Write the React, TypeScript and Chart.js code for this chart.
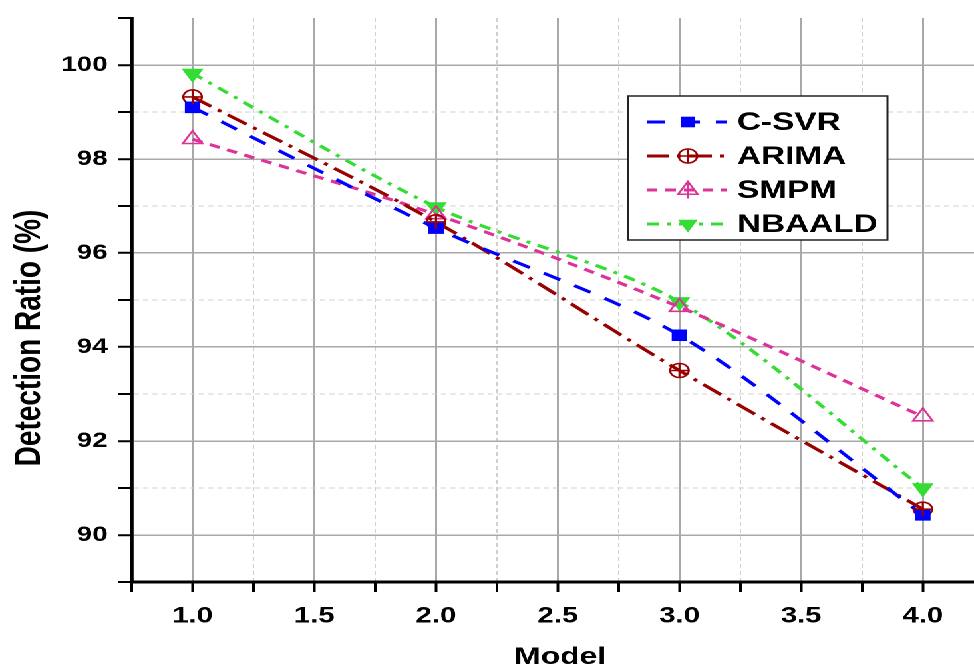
import React, { useEffect, useRef } from 'react';
import { Chart, registerables } from 'chart.js';

Chart.register(...registerables);

// ---- data ----
const X_VALUES = [1.0, 2.0, 3.0, 4.0];
const SERIES_NAMES = ['C-SVR', 'ARIMA', 'SMPM', 'NBAALD'];
const CSVR = [99.1, 96.53, 94.25, 90.43];
const ARIMA = [99.32, 96.66, 93.5, 90.55];
const SMPM = [98.42, 96.82, 94.85, 92.52];
const NBAALD = [99.82, 96.98, 94.96, 91.0];
const Y_TICK_LABELS = [90, 92, 94, 96, 98, 100];
const X_TICK_LABELS = [1.0, 1.5, 2.0, 2.5, 3.0, 3.5, 4.0];
const X_TICK_POSITIONS = [0.75, 1.0, 1.25, 1.5, 1.75, 2.0, 2.25, 2.5, 2.75, 3.0, 3.25, 3.5, 3.75, 4.0];
const X_AXIS_TITLE = 'Model';
const Y_AXIS_TITLE = 'Detection Ratio (%)';

// ---- styles ----
const CANVAS_W = 732;
const CANVAS_H = 668;
const STRETCH = 974 / CANVAS_W;
const X_MIN = 0.75;
const X_MAX = 4.21;
const FONT = '"Liberation Sans", Arial, Helvetica, sans-serif';
const COLORS = ['#0000ff', '#990000', '#dd3399', '#33dd33'];
const DASHES = [[14, 12], [17, 6, 3, 6], [8, 6], [9, 6, 3, 6]];
const MARKERS = ['rect', 'circlePlus', 'triUp', 'triDown'];

const isMultiple = (v: number, step: number) => Math.abs(v / step - Math.round(v / step)) < 1e-6;

function drawMarker(ctx: CanvasRenderingContext2D, kind: string, x: number, y: number, color: string) {
  ctx.save();
  ctx.setLineDash([]);
  ctx.strokeStyle = color;
  ctx.fillStyle = color;
  ctx.lineWidth = 1.6;
  if (kind === 'rect') {
    ctx.fillRect(x - 5.3, y - 5.3, 10.6, 10.6);
  } else if (kind === 'circlePlus') {
    ctx.beginPath();
    ctx.arc(x, y, 7, 0, Math.PI * 2);
    ctx.stroke();
    ctx.beginPath();
    ctx.moveTo(x - 7, y); ctx.lineTo(x + 7, y);
    ctx.moveTo(x, y - 7); ctx.lineTo(x, y + 7);
    ctx.stroke();
  } else if (kind === 'triUp') {
    const r = 8.5;
    ctx.beginPath();
    ctx.moveTo(x, y - r);
    ctx.lineTo(x + r * 0.866, y + r * 0.5);
    ctx.lineTo(x - r * 0.866, y + r * 0.5);
    ctx.closePath();
    ctx.stroke();
    ctx.beginPath();
    ctx.moveTo(x, y - r); ctx.lineTo(x, y + r);
    ctx.stroke();
  } else {
    const r = 8.5;
    ctx.beginPath();
    ctx.moveTo(x, y + r);
    ctx.lineTo(x + r * 0.866, y - r * 0.5);
    ctx.lineTo(x - r * 0.866, y - r * 0.5);
    ctx.closePath();
    ctx.fill();
  }
  ctx.restore();
}

const extrasPlugin = {
  id: 'extras',
  afterDatasetsDraw(chart: any) {
    const meta = chart.getDatasetMeta(1);
    const ctx = chart.ctx as CanvasRenderingContext2D;
    ctx.save();
    ctx.strokeStyle = COLORS[1];
    ctx.lineWidth = 1.6;
    ctx.setLineDash([]);
    meta.data.forEach((p: any) => {
      ctx.beginPath();
      ctx.moveTo(p.x - 7, p.y); ctx.lineTo(p.x + 7, p.y);
      ctx.moveTo(p.x, p.y - 7); ctx.lineTo(p.x, p.y + 7);
      ctx.stroke();
    });
    ctx.restore();
  },
  afterDraw(chart: any) {
    const ctx = chart.ctx as CanvasRenderingContext2D;
    // axis titles
    ctx.save();
    ctx.fillStyle = '#000';
    ctx.font = `bold 24px ${FONT}`;
    ctx.textAlign = 'center';
    ctx.textBaseline = 'alphabetic';
    ctx.fillText(X_AXIS_TITLE, 421, 664);
    ctx.translate(30, 338);
    ctx.rotate(-Math.PI / 2);
    ctx.font = `bold 28px ${FONT}`;
    ctx.fillText(Y_AXIS_TITLE, 0, 0);
    ctx.restore();

    // legend box
    const bx = 472, by = 96, bw = 195, bh = 144;
    ctx.save();
    ctx.fillStyle = '#ffffff';
    ctx.fillRect(bx, by, bw, bh);
    ctx.strokeStyle = '#222';
    ctx.lineWidth = 1.5;
    ctx.strokeRect(bx, by, bw, bh);
    chart.data.datasets.forEach((ds: any, i: number) => {
      const ry = 122 + 34 * i;
      ctx.save();
      ctx.strokeStyle = COLORS[i];
      ctx.lineWidth = 3;
      ctx.setLineDash(DASHES[i]);
      ctx.beginPath();
      ctx.moveTo(486, ry);
      ctx.lineTo(546, ry);
      ctx.stroke();
      ctx.restore();
      drawMarker(ctx, MARKERS[i], 517, ry, COLORS[i]);
      ctx.fillStyle = '#000';
      ctx.font = `bold 25px ${FONT}`;
      ctx.textAlign = 'left';
      ctx.textBaseline = 'middle';
      ctx.fillText(ds.label, 554, ry + 1);
    });
    ctx.restore();
  },
};

export default function App() {
  const canvasRef = useRef<HTMLCanvasElement | null>(null);

  useEffect(() => {
    const canvas = canvasRef.current;
    if (!canvas) return;
    const seriesValues = [CSVR, ARIMA, SMPM, NBAALD];
    const datasets = seriesValues.map((vals, i) => ({
      label: SERIES_NAMES[i],
      data: X_VALUES.map((x, j) => ({ x, y: vals[j] })),
      borderColor: COLORS[i],
      backgroundColor: COLORS[i],
      borderWidth: 3,
      borderDash: DASHES[i],
      tension: 0.3,
      pointStyle: i === 0 ? 'rect' : i === 1 ? 'circle' : 'triangle',
      pointRotation: i === 3 ? 180 : 0,
      pointRadius: i === 0 ? 7.5 : i === 1 ? 7 : 8.5,
      pointBorderWidth: i === 0 || i === 3 ? 1 : 1.6,
      pointBackgroundColor: i === 1 || i === 2 ? 'rgba(255,255,255,0)' : COLORS[i],
      pointBorderColor: COLORS[i],
      fill: false,
    }));

    const chart = new Chart(canvas, {
      type: 'line',
      data: { datasets },
      options: {
        responsive: false,
        devicePixelRatio: 2,
        animation: false,
        layout: { autoPadding: false, padding: { top: 18, left: 0, right: 0, bottom: 0 } },
        plugins: { legend: { display: false }, tooltip: { enabled: false } },
        scales: {
          x: {
            type: 'linear',
            min: X_MIN,
            max: X_MAX,
            bounds: 'data',
            afterBuildTicks: (s: any) => {
              s.ticks = X_TICK_POSITIONS.map((value) => ({ value }));
              s.min = X_MIN;
              s.max = X_MAX;
            },
            afterFit: (s: any) => { s.height = 86; s.paddingLeft = 0; s.paddingRight = 0; },
            ticks: {
              autoSkip: false,
              maxRotation: 0,
              padding: 11,
              color: '#000',
              font: { family: FONT, size: 22, weight: 'bold' },
              callback: (v: any) => {
                const n = Number(v);
                return X_TICK_LABELS.some((t) => Math.abs(t - n) < 1e-6) ? n.toFixed(1) : '';
              },
            },
            grid: {
              drawTicks: true,
              tickLength: 10,
              tickWidth: 2,
              tickColor: '#000',
              color: (c: any) => {
                const v = c.tick ? c.tick.value : 0;
                if (v <= X_MIN + 0.01) return 'rgba(0,0,0,0)';
                return isMultiple(v, 0.5) ? '#a8a8a8' : '#d0d0d0';
              },
              lineWidth: (c: any) => (c.tick && isMultiple(c.tick.value, 0.5) ? 1.5 : 1),
            },
            border: {
              display: true,
              color: '#000',
              width: 3,
              dash: (c: any) => (c.tick && !isMultiple(c.tick.value, 0.5) ? [4, 3] : []),
            },
          },
          y: {
            type: 'linear',
            min: 89,
            max: 101,
            afterFit: (s: any) => { s.width = 99; s.paddingTop = 0; s.paddingBottom = 0; },
            ticks: {
              stepSize: 1,
              padding: 8,
              color: '#000',
              font: { family: FONT, size: 21, weight: 'bold' },
              callback: (v: any) => (Y_TICK_LABELS.includes(Number(v)) ? String(v) : ''),
            },
            grid: {
              drawTicks: true,
              tickLength: 10,
              tickWidth: 2,
              tickColor: '#000',
              color: (c: any) => {
                const v = c.tick ? c.tick.value : 0;
                if (v <= 89 || v >= 101) return 'rgba(0,0,0,0)';
                return v % 2 === 0 ? '#a8a8a8' : '#d0d0d0';
              },
              lineWidth: (c: any) => (c.tick && c.tick.value % 2 === 0 ? 1.5 : 1),
            },
            border: {
              display: true,
              color: '#000',
              width: 2.4,
              dash: (c: any) => (c.tick && c.tick.value % 2 !== 0 ? [4, 3] : []),
            },
          },
        },
      } as any,
      plugins: [extrasPlugin],
    });
    return () => chart.destroy();
  }, []);

  return (
    <div
      style={{
        position: 'absolute',
        left: 0,
        top: 0,
        width: CANVAS_W,
        height: CANVAS_H,
        background: '#fff',
        transform: `scaleX(${STRETCH})`,
        transformOrigin: '0 0',
      }}
    >
      <canvas ref={canvasRef} width={CANVAS_W} height={CANVAS_H} style={{ display: 'block' }} />
    </div>
  );
}
